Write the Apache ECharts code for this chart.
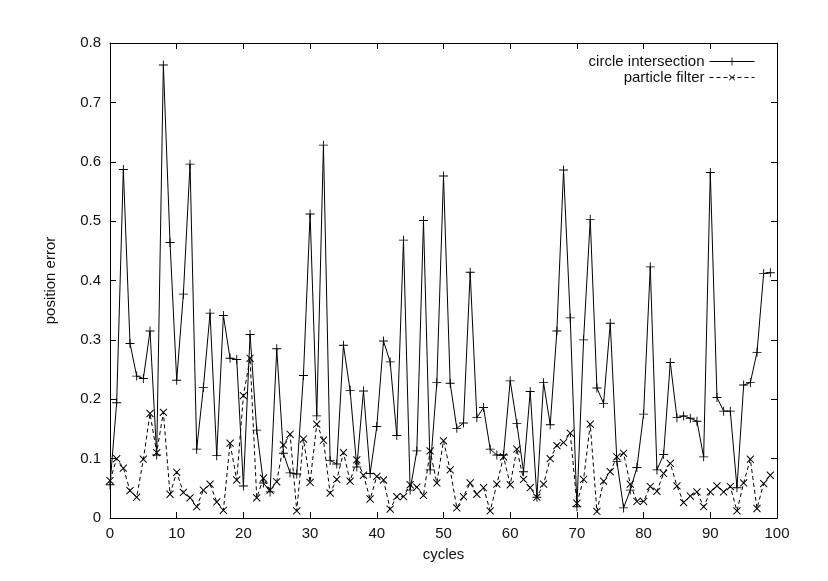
<!DOCTYPE html>
<html>
<head>
<meta charset="utf-8">
<script src="https://cdn.jsdelivr.net/npm/echarts@6/dist/echarts.min.js"></script>
<style>
    html, body { margin: 0; padding: 0; background: #fff; }
    #chartDiv { width: 828px; height: 581px; }
</style>
</head>
<body>
<div id="chartDiv"></div>

<script>
    // 数据：每个周期的定位误差
    var circleIntersection = [
        0.056, 0.194, 0.587, 0.294, 0.239, 0.235, 0.315, 0.106, 0.763, 0.464,
        0.232, 0.377, 0.596, 0.116, 0.220, 0.345, 0.105, 0.341, 0.269, 0.267,
        0.054, 0.309, 0.148, 0.059, 0.044, 0.285, 0.109, 0.076, 0.074, 0.240,
        0.512, 0.172, 0.628, 0.097, 0.091, 0.291, 0.215, 0.086, 0.214, 0.075,
        0.154, 0.298, 0.263, 0.139, 0.468, 0.047, 0.113, 0.501, 0.081, 0.228,
        0.576, 0.227, 0.151, 0.160, 0.414, 0.169, 0.186, 0.116, 0.106, 0.106,
        0.231, 0.159, 0.078, 0.213, 0.035, 0.228, 0.157, 0.315, 0.586, 0.337,
        0.019, 0.300, 0.503, 0.219, 0.193, 0.328, 0.095, 0.017, 0.047, 0.085,
        0.175, 0.423, 0.081, 0.107, 0.262, 0.169, 0.172, 0.168, 0.163, 0.103,
        0.582, 0.203, 0.180, 0.180, 0.051, 0.224, 0.228, 0.279, 0.412, 0.413
    ];
    var particleFilter = [
        0.063, 0.100, 0.084, 0.046, 0.035, 0.099, 0.176, 0.110, 0.178, 0.040,
        0.077, 0.043, 0.034, 0.019, 0.047, 0.057, 0.027, 0.013, 0.126, 0.064,
        0.206, 0.269, 0.034, 0.067, 0.047, 0.061, 0.123, 0.141, 0.012, 0.133,
        0.060, 0.158, 0.131, 0.042, 0.065, 0.110, 0.062, 0.098, 0.072, 0.032,
        0.070, 0.064, 0.015, 0.036, 0.036, 0.056, 0.052, 0.038, 0.113, 0.059,
        0.130, 0.081, 0.017, 0.036, 0.059, 0.040, 0.051, 0.012, 0.057, 0.103,
        0.056, 0.116, 0.065, 0.051, 0.035, 0.057, 0.100, 0.122, 0.127, 0.143,
        0.025, 0.065, 0.158, 0.011, 0.062, 0.078, 0.103, 0.109, 0.057, 0.028,
        0.028, 0.053, 0.045, 0.075, 0.092, 0.054, 0.026, 0.037, 0.044, 0.019,
        0.044, 0.054, 0.044, 0.053, 0.012, 0.059, 0.099, 0.016, 0.058, 0.072
    ];
    var xTicks = { min: 0, max: 100, interval: 10 };
    var yTicks = { min: 0, max: 0.8, interval: 0.1 };
</script>

<script>
    var FONT = 'Liberation Sans, Arial, sans-serif';
    // 加号形状（填充的细十字），旋转 45 度即为叉号
    var PLUS = 'path://M4.5,0 H5.5 V4.5 H10 V5.5 H5.5 V10 H4.5 V5.5 H0 V4.5 H4.5 Z';

    function toPoints(arr) {
        return arr.map(function (v, i) { return [i, v]; });
    }

    function frameAxis(pos, ticks, extra) {
        var a = {
            type: 'value',
            position: pos,
            min: ticks.min,
            max: ticks.max,
            interval: ticks.interval,
            splitLine: { show: false },
            axisLine: { show: true, onZero: false, lineStyle: { color: '#000', width: 1 } },
            axisTick: { show: true, inside: true, length: 6, lineStyle: { color: '#000', width: 1 } },
            axisLabel: { show: false }
        };
        return Object.assign(a, extra || {});
    }

    var chart = echarts.init(document.getElementById('chartDiv'), null, { renderer: 'canvas' });

    chart.setOption({
        animation: false,
        backgroundColor: '#fff',
        textStyle: { fontFamily: FONT },
        grid: { left: 110, right: 51, top: 43, bottom: 63, containLabel: false },
        legend: {
            orient: 'vertical',
            right: 68,
            top: 49,
            align: 'right',
            itemWidth: 45,
            itemHeight: 10,
            itemGap: 1,
            lineStyle: { width: 1 },
            textStyle: { fontFamily: FONT, fontSize: 15, color: '#111' },
            data: ['circle intersection', 'particle filter']
        },
        xAxis: [
            frameAxis('bottom', xTicks, {
                name: 'cycles',
                nameLocation: 'middle',
                nameGap: 29,
                nameTextStyle: { fontFamily: FONT, fontSize: 15, color: '#111' },
                axisLabel: { show: true, margin: 8, fontFamily: FONT, fontSize: 15, color: '#111' }
            }),
            frameAxis('top', xTicks)
        ],
        yAxis: [
            frameAxis('left', yTicks, {
                name: 'position error',
                nameLocation: 'middle',
                nameGap: 52,
                nameTextStyle: { fontFamily: FONT, fontSize: 15, color: '#111' },
                axisLabel: { show: true, margin: 9, fontFamily: FONT, fontSize: 15, color: '#111' }
            }),
            frameAxis('right', yTicks)
        ],
        series: [
            {
                name: 'circle intersection',
                type: 'line',
                xAxisIndex: 0,
                yAxisIndex: 0,
                data: toPoints(circleIntersection),
                symbol: PLUS,
                symbolSize: 9,
                showAllSymbol: true,
                lineStyle: { color: '#000', width: 1, type: 'solid' },
                itemStyle: { color: '#000' }
            },
            {
                name: 'particle filter',
                type: 'line',
                xAxisIndex: 0,
                yAxisIndex: 0,
                data: toPoints(particleFilter),
                symbol: PLUS,
                symbolSize: 10,
                symbolRotate: 45,
                showAllSymbol: true,
                lineStyle: { color: '#000', width: 1, type: [4, 3] },
                itemStyle: { color: '#000' }
            }
        ]
    });
</script>
</body>
</html>
